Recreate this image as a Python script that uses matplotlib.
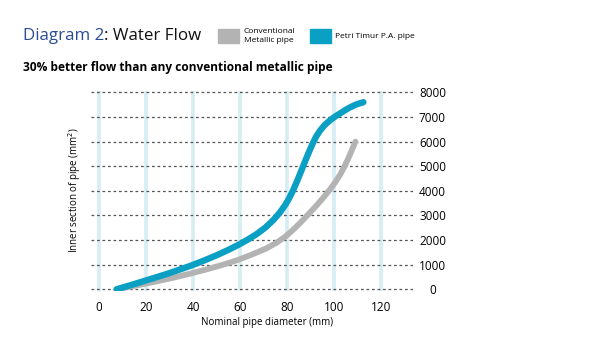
import matplotlib.pyplot as plt
import matplotlib.patches as mpatches

plt.rcParams['font.family'] = ['Open Sans', 'DejaVu Sans']

# data
diam_ticks = [0, 20, 40, 60, 80, 100, 120]
area_ticks = [0, 1000, 2000, 3000, 4000, 5000, 6000, 7000, 8000]

petri_x = [7.5, 14.6, 21.7, 28.8, 34, 39.4, 45, 50, 55, 59.6, 63.5, 67.1, 70.8, 74.2,
           77, 79.4, 81, 82.6, 84.3, 86, 87.7, 89.2, 90.7, 92.3, 94, 96, 98.3, 100.5,
           102.6, 104.7, 106.8, 109.5, 112.5]
petri_y = [0, 200, 410, 620, 790, 970, 1180, 1380, 1600, 1820, 2030, 2245, 2510, 2815,
           3125, 3450, 3715, 4025, 4400, 4800, 5205, 5550, 5880, 6190, 6445, 6675, 6870, 7025,
           7150, 7280, 7395, 7515, 7605]

metal_x = [7.5, 14.6, 21.7, 28.8, 34, 39.4, 45, 50, 55, 59.6, 65, 71.4, 75.5, 79.4,
           82.5, 85.5, 89, 92.6, 95.5, 98.3, 100.5, 102.6, 104.5, 106.1, 107.6, 109.1]
metal_y = [0, 130, 265, 410, 525, 650, 790, 920, 1065, 1210, 1410, 1670, 1890, 2150,
           2410, 2690, 3040, 3410, 3730, 4060, 4350, 4660, 5000, 5330, 5660, 6000]

BLUE = '#0aa0c4'
GREY = '#b3b3b3'

W, H = 600, 351
fig = plt.figure(figsize=(W / 100, H / 100), dpi=100)

# axes box in pixels: left 91, right 413, top 91, bottom 291
ax = fig.add_axes([91 / W, 1 - 291 / H, (413 - 91) / W, (291 - 91) / H])
ax.set_xlim(-3.4, 133.6)
ax.set_ylim(-70, 8060)

for x in diam_ticks:
    ax.axvline(x, color='#d5edf4', lw=2.6, zorder=0)
for y in area_ticks:
    ax.axhline(y, color='#555555', lw=0.9, ls=(0, (2.2, 2.2)), zorder=1)

ax.plot(metal_x, metal_y, color=GREY, lw=4.2, solid_capstyle='round',
        solid_joinstyle='round', zorder=3)
ax.plot(petri_x, petri_y, color=BLUE, lw=4.6, solid_capstyle='round',
        solid_joinstyle='round', zorder=4)

for s in ax.spines.values():
    s.set_visible(False)

ax.set_xticks(diam_ticks)
ax.set_xticklabels([str(v) for v in diam_ticks])
ax.yaxis.tick_right()
ax.set_yticks(area_ticks)
ax.set_yticklabels([str(v) for v in area_ticks], ha='center')
ax.tick_params(axis='both', length=0, labelsize=8.5)
ax.tick_params(axis='x', pad=7)
ax.tick_params(axis='y', pad=14)

fig.text(267 / W, 1 - 323 / H, 'Nominal pipe diameter (mm)', ha='center', va='center', fontsize=7)
fig.text(75 / W, 1 - 190 / H, 'Inner section of pipe (mm$^2$)', ha='center', va='center',
         rotation=90, fontsize=7)

# title
t1 = fig.text(23 / W, 1 - 36 / H, 'Diagram 2', color='#2c4c94', fontsize=12.2, va='center')
fig.canvas.draw()
bb = t1.get_window_extent()
fig.text(bb.x1 / W, 1 - 36 / H, ': Water Flow', color='#111111', fontsize=12.2, va='center')

fig.text(23 / W, 1 - 68 / H, '30% better flow than any conventional metallic pipe',
         fontsize=8.6, fontweight='bold', va='center')

# legend
fig.patches.append(mpatches.Rectangle((218 / W, 1 - 43 / H), 21 / W, 14 / H,
                                      transform=fig.transFigure, color=GREY))
fig.text(244 / W, 1 - 36 / H, 'Conventional\nMetallic pipe', fontsize=6, va='center',
         linespacing=1.3)
fig.patches.append(mpatches.Rectangle((310 / W, 1 - 43 / H), 21 / W, 14 / H,
                                      transform=fig.transFigure, color=BLUE))
fig.text(335 / W, 1 - 37 / H, 'Petri Timur P.A. pipe', fontsize=6, va='center')

fig.savefig('out.png', dpi=100)
